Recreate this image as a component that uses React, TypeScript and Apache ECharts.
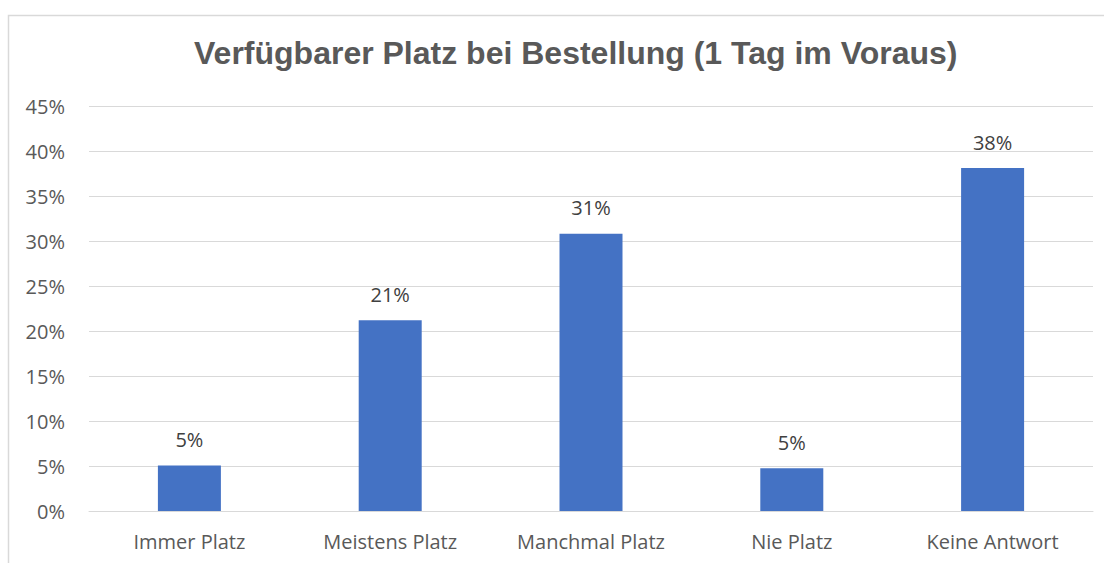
import React, { useEffect, useRef } from "react";
import * as echarts from "echarts";

const categories = ["Immer Platz", "Meistens Platz", "Manchmal Platz", "Nie Platz", "Keine Antwort"];
const values = [5.05, 21.2, 30.8, 4.75, 38.1];
const yTicks = [0, 5, 10, 15, 20, 25, 30, 35, 40, 45];
const titleText = "Verfügbarer Platz bei Bestellung (1 Tag im Voraus)";

export default function App() {
  const ref = useRef<HTMLDivElement>(null);
  useEffect(() => {
    if (!ref.current) return;
    const chart = echarts.init(ref.current, undefined, { renderer: "svg" });
    chart.setOption({
      animation: false,
      backgroundColor: "#ffffff",
      title: {
        text: titleText,
        left: 189,
        top: 32,
        textStyle: { fontFamily: "Liberation Sans", fontWeight: "bold", fontSize: 32, color: "#595959" },
      },
      graphic: [
        {
          type: "rect",
          shape: { x: 8.5, y: 15.5, width: 1200, height: 700 },
          style: { fill: "none", stroke: "#d9d9d9", lineWidth: 1.5 },
          silent: true,
          z: -10,
        },
      ],
      grid: { left: 89, right: 11, top: 106, bottom: 52, containLabel: false },
      xAxis: {
        type: "category",
        data: categories,
        axisTick: { show: false },
        axisLine: { lineStyle: { color: "#d9d9d9", width: 1 } },
        axisLabel: { color: "#595959", fontSize: 20, fontFamily: "Open Sans", margin: 20 },
      },
      yAxis: {
        type: "value",
        min: 0,
        max: yTicks[yTicks.length - 1],
        interval: 5,
        axisLine: { show: false },
        axisTick: { show: false },
        splitLine: { lineStyle: { color: "#d9d9d9", width: 1 } },
        axisLabel: { color: "#595959", fontSize: 20, fontFamily: "Open Sans", margin: 24, formatter: (v: number) => v + "%" },
      },
      series: [
        {
          type: "bar",
          data: values,
          barWidth: 63,
          itemStyle: { color: "#4472C4" },
          label: {
            show: true,
            position: "top",
            distance: 16,
            color: "#404040",
            fontSize: 20,
            fontFamily: "Open Sans",
            formatter: (p: any) => Math.round(p.value) + "%",
          },
        },
      ],
    });
    return () => chart.dispose();
  }, []);
  return <div ref={ref} style={{ position: "absolute", left: 0, top: 0, width: 1104, height: 563 }} />;
}
